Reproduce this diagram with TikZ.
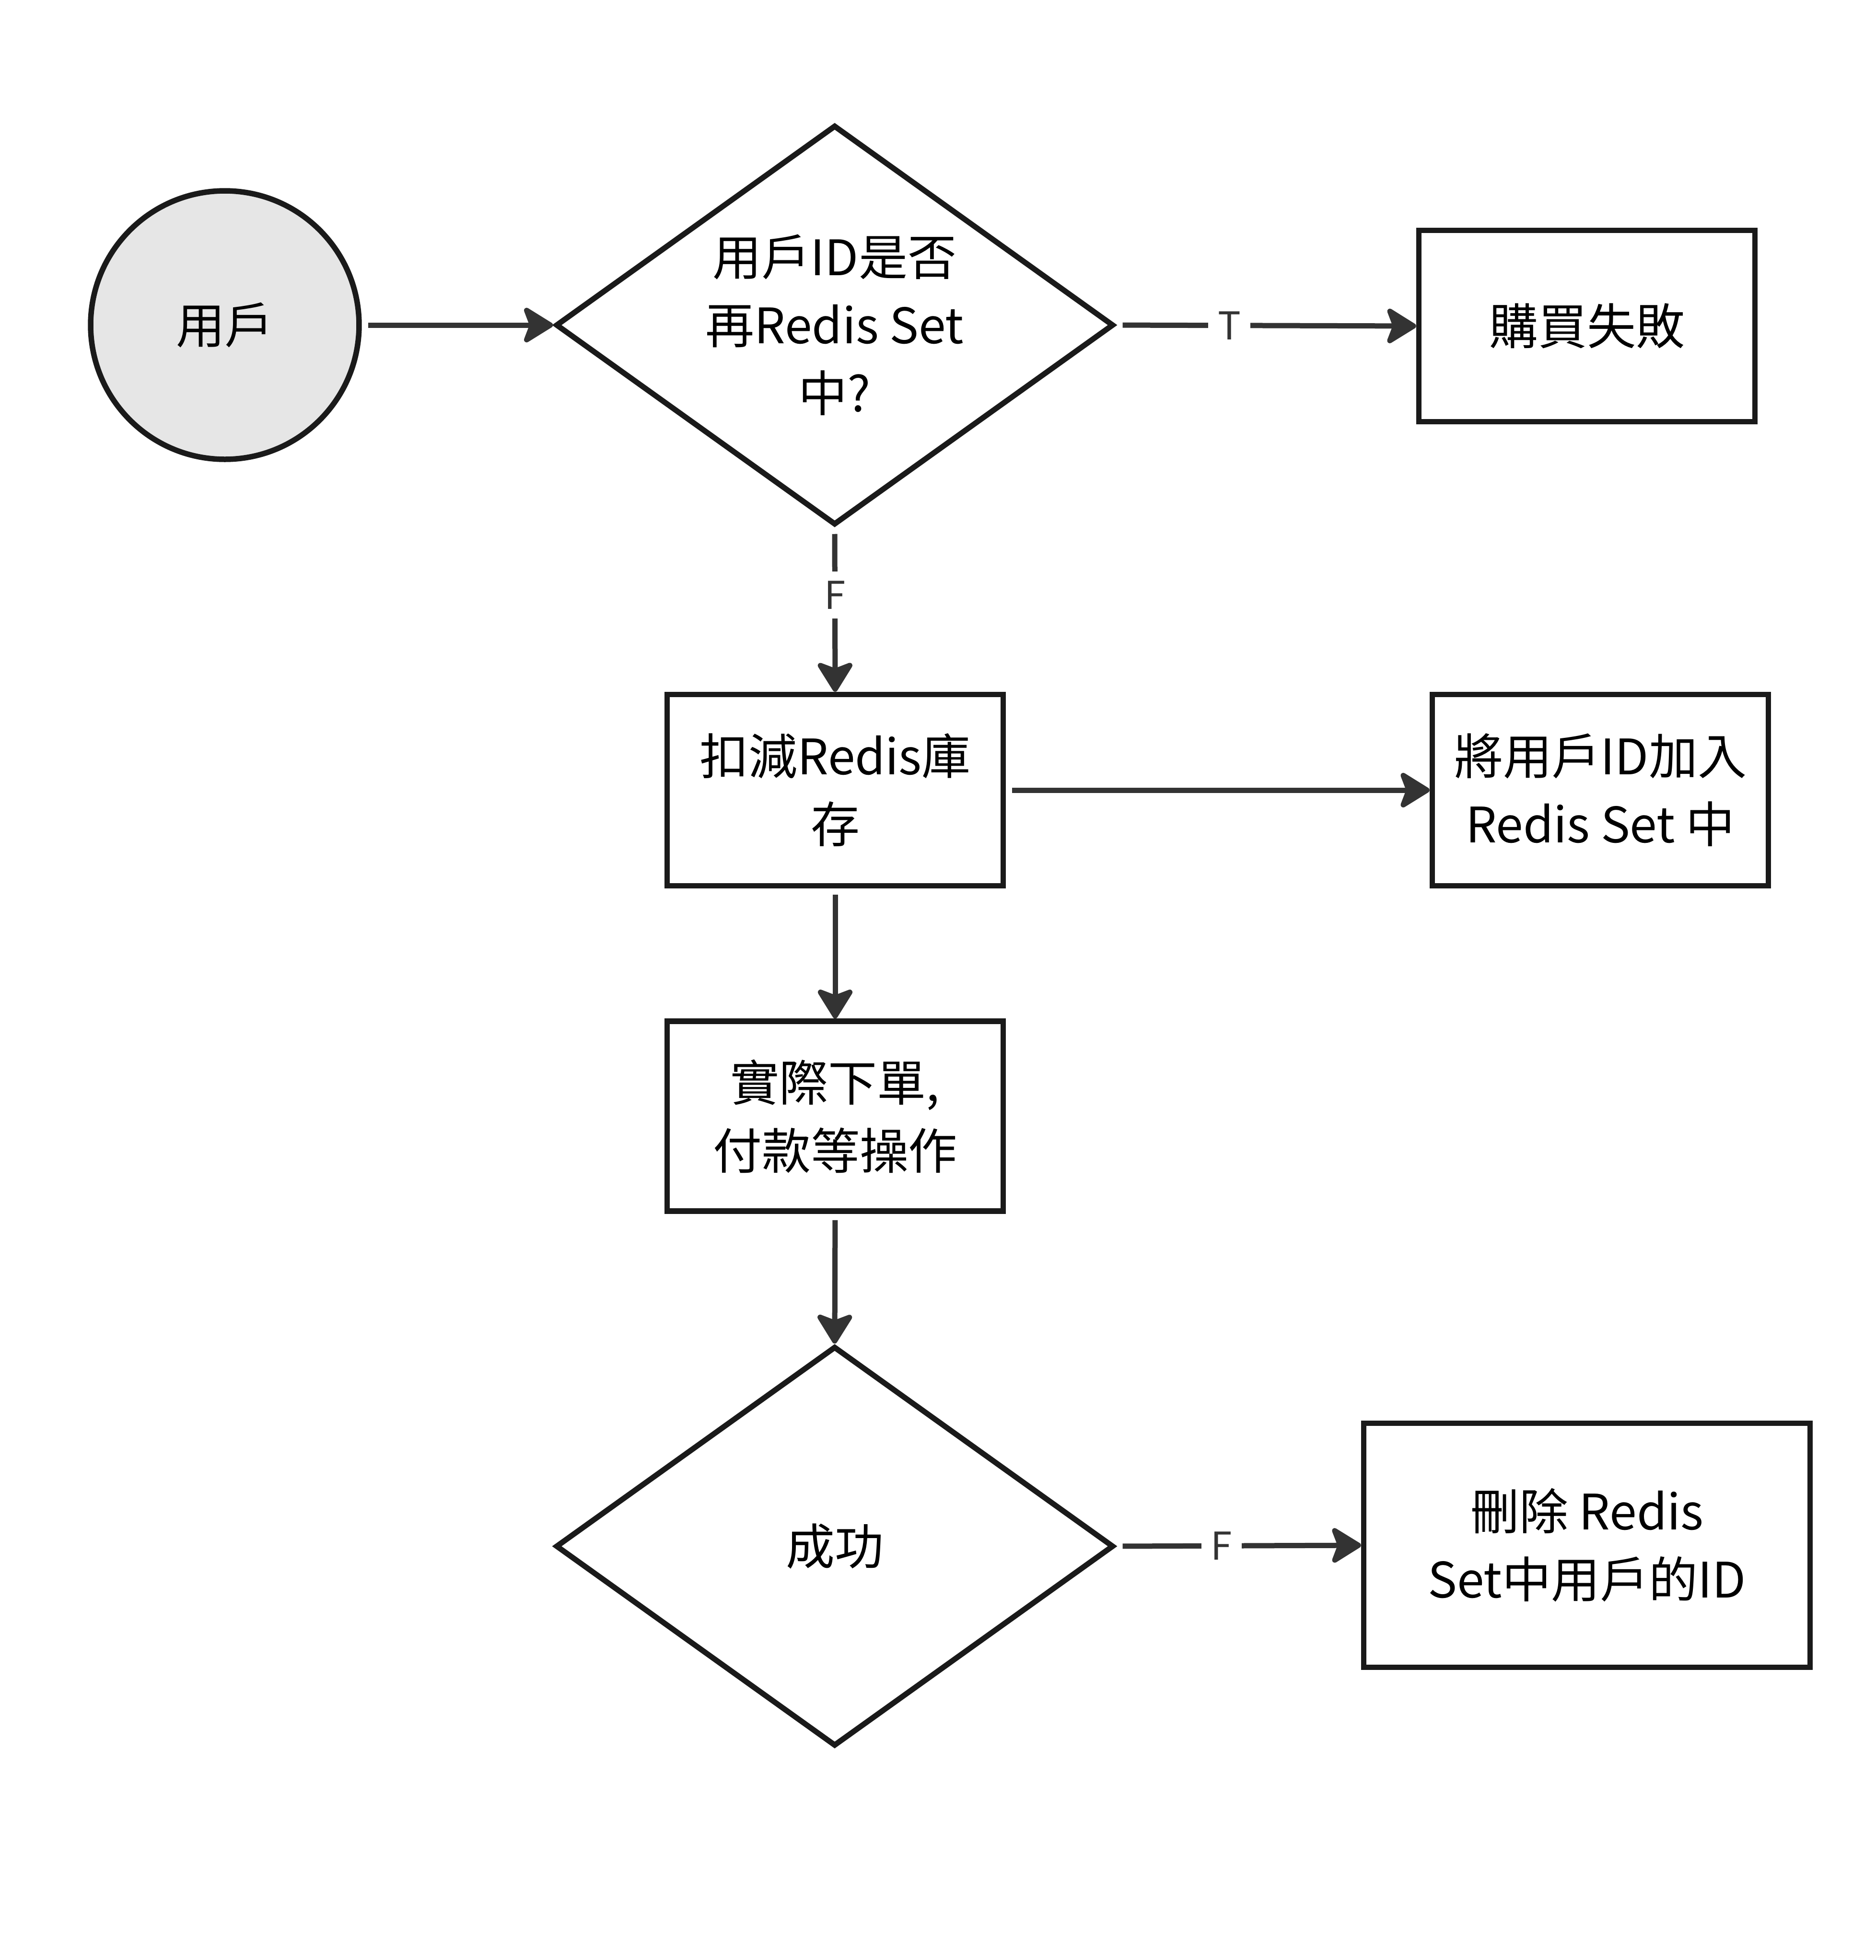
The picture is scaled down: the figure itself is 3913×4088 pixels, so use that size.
\documentclass[tikz,border=0pt]{standalone}
\usepackage{fontspec}
\setmainfont{Noto Sans CJK TC}
\usetikzlibrary{shapes.geometric,arrows.meta}
\definecolor{edgec}{HTML}{333333}
\definecolor{bordc}{HTML}{1A1A1A}
\definecolor{startc}{HTML}{E6E6E6}
\begin{document}
\begin{tikzpicture}[x=0.1pt,y=-0.1pt,
  base/.style={draw=bordc, line width=1.15pt, align=center, font=\fontsize{10.2pt}{14.2pt}\selectfont, text=black, inner sep=0pt},
  startnode/.style={base, circle, fill=startc, minimum size=56pt},
  decision/.style={base, diamond, aspect=1.4, minimum width=116.4pt, minimum height=83.4pt},
  procbox/.style={base, rectangle, minimum width=70.1pt, minimum height=39.9pt},
  conn/.style={draw=edgec, line width=1.1pt, -{Stealth[length=7pt, width=8.6pt, inset=1.6pt, round]}, shorten <=1.3pt},
  elabel/.style={fill=white, text=edgec, font=\fontsize{8pt}{9pt}\selectfont, inner sep=2pt}
]
\useasboundingbox (0,0) rectangle (3913,4088);
\node[startnode] (user) at (469,678) {用戶};
\node[decision] (d1) at (1741,678) {用戶ID是否\\再Redis Set\\中?};
\node[procbox] (fail) at (3310,680) {購買失敗};
\node[procbox] (dec) at (1742,1648) {扣減Redis庫\\存};
\node[procbox] (add) at (3338,1648) {將用戶ID加入\\Redis Set 中};
\node[procbox, minimum height=39.6pt] (order) at (1742,2328) {實際下單,\\付款等操作};
\node[decision] (d2) at (1741,3225) {成功};
\node[procbox, minimum width=93.1pt, minimum height=50.9pt] (del) at (3310,3223) {刪除 Redis\\Set中用戶的ID};

\draw[conn] (user) -- (d1.west);
\draw[conn] (d1.east) -- node[elabel, pos=0.377] {T} (fail.west);
\draw[conn] (d1.south) -- node[elabel, pos=0.41] {F} (dec.north);
\draw[conn] (dec.east) -- (add.west);
\draw[conn] (dec.south) -- (order.north);
\draw[conn] (order.south) -- (d2.north);
\draw[conn] (d2.east) -- node[elabel, pos=0.43] {F} (del.west);
\end{tikzpicture}
\end{document}
